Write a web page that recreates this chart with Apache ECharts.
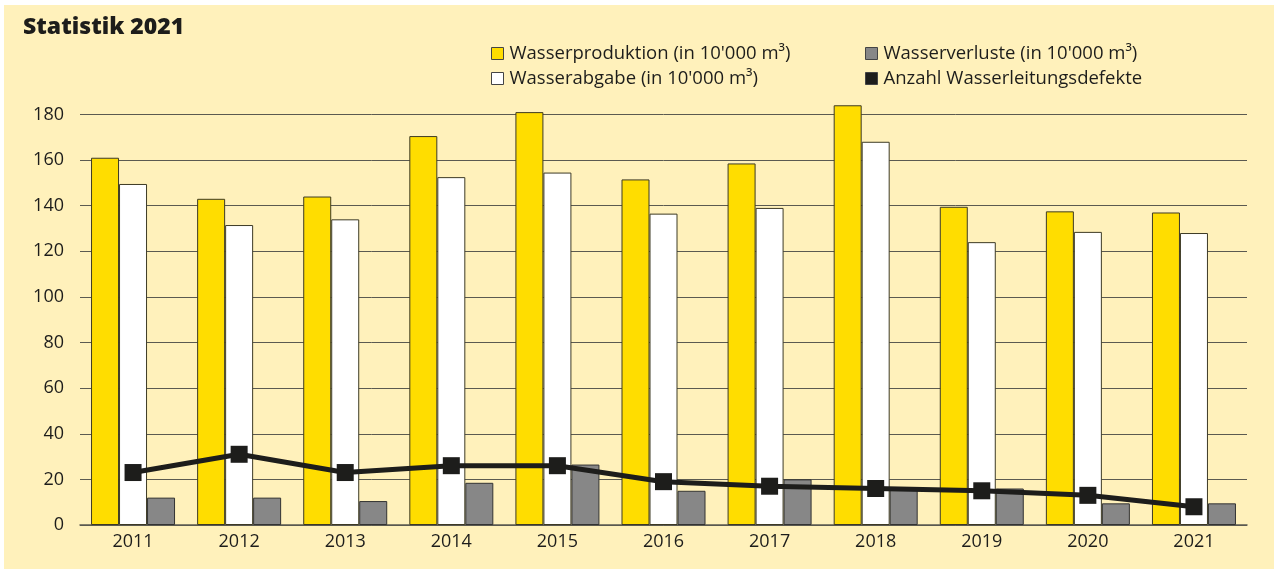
<!DOCTYPE html>
<html>
<head>
<meta charset="utf-8">
<script src="https://cdn.jsdelivr.net/npm/echarts@6/dist/echarts.min.js"></script>
<style>
  html, body { margin: 0; padding: 0; background: #fff; }
  #panel { position: absolute; left: 4px; top: 5px; width: 1270px; height: 564px; background: #FFF1BB; }
  #chart { position: absolute; left: 0; top: 0; width: 1274px; height: 570px; }
</style>
</head>
<body>
<div id="panel"></div>
<div id="chart"></div>
<script>
const years = ['2011', '2012', '2013', '2014', '2015', '2016', '2017', '2018', '2019', '2020', '2021'];
const produktion = [161, 143, 144, 170.5, 181, 151.5, 158.5, 184, 139.5, 137.5, 137];
const abgabe = [149.5, 131.5, 134, 152.5, 154.5, 136.5, 139, 168, 124, 128.5, 128];
const verluste = [12, 12, 10.5, 18.5, 26.5, 15, 20, 16, 16, 9.5, 9.5];
const defekte = [23, 31, 23, 26, 26, 19, 17, 16, 15, 13, 8];

const names = [
  "Wasserproduktion (in 10'000 m³)",
  "Wasserabgabe (in 10'000 m³)",
  "Wasserverluste (in 10'000 m³)",
  'Anzahl Wasserleitungsdefekte'
];

const txt = '#1d1d1b';
const font = 'Open Sans';

const chart = echarts.init(document.getElementById('chart'));

const legendBase = {
  orient: 'vertical',
  top: 38,
  itemWidth: 12,
  itemHeight: 12,
  itemGap: 4,
  icon: 'rect',
  itemStyle: { borderColor: '#444', borderWidth: 1 },
  textStyle: { fontFamily: font, fontSize: 18.5, color: txt, lineHeight: 21, padding: [0, 0, 0, 1] }
};

const option = {
  animation: false,
  textStyle: { fontFamily: font },
  title: {
    text: 'Statistik 2021',
    left: 18,
    top: 11,
    textStyle: { fontFamily: font, fontSize: 23, fontWeight: 800, color: txt }
  },
  legend: [
    Object.assign({}, legendBase, { left: 486, data: [names[0], names[1]] }),
    Object.assign({}, legendBase, { left: 860, data: [names[2], names[3]] })
  ],
  grid: { left: 80, right: 27, top: 103, bottom: 45 },
  xAxis: {
    type: 'category',
    data: years,
    axisLine: { lineStyle: { color: '#5b5a50', width: 1.5 } },
    axisTick: { show: false },
    axisLabel: { color: txt, fontFamily: font, fontSize: 18, margin: 8 }
  },
  yAxis: {
    type: 'value',
    min: 0,
    max: 185,
    interval: 20,
    axisLine: { show: false },
    axisTick: { show: false },
    axisLabel: { color: txt, fontFamily: font, fontSize: 18, margin: 16, showMaxLabel: false },
    splitLine: { showMaxLine: false, lineStyle: { color: '#5b5a50', width: 1 } }
  },
  series: [
    {
      name: names[0], type: 'bar', data: produktion,
      barWidth: 28, barGap: '0%',
      itemStyle: { color: '#FFDD00', borderColor: '#3d3a25', borderWidth: 1 }
    },
    {
      name: names[1], type: 'bar', data: abgabe,
      barWidth: 28, barGap: '0%',
      itemStyle: { color: '#FFFFFF', borderColor: '#3d3a25', borderWidth: 1 }
    },
    {
      name: names[2], type: 'bar', data: verluste,
      barWidth: 28, barGap: '0%',
      itemStyle: { color: '#878787', borderColor: '#333', borderWidth: 1 }
    },
    {
      name: names[3], type: 'line', data: defekte,
      symbol: 'rect', symbolSize: 17,
      lineStyle: { color: '#1d1d1b', width: 5 },
      itemStyle: { color: '#1d1d1b' },
      z: 5
    }
  ]
};

chart.setOption(option);
</script>
</body>
</html>
